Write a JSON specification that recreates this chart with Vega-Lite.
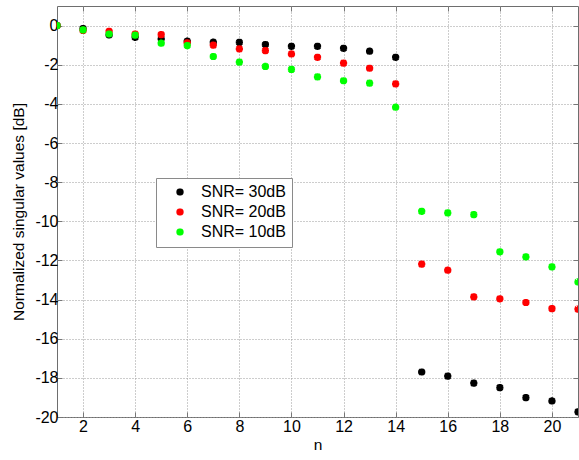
{
  "$schema": "https://vega.github.io/schema/vega-lite/v6.json",
  "width": 521,
  "height": 411,
  "autosize": {"type": "none"},
  "padding": {"left": 57, "top": 6, "right": 1, "bottom": 43},
  "background": "white",
  "config": {
    "view": {"stroke": "#6e6e6e", "strokeWidth": 1},
    "font": "Liberation Sans",
    "axis": {
      "labelFont": "Liberation Sans",
      "titleFont": "Liberation Sans",
      "labelFontSize": 16,
      "titleFontSize": 15.5,
      "titleFontWeight": "normal",
      "labelColor": "black",
      "titleColor": "black",
      "domain": false,
      "tickSize": -5,
      "tickColor": "#777",
      "gridColor": "#9a9a9a",
      "gridDash": [1, 2],
      "gridWidth": 1,
      "gridOpacity": 1,
      "labelExpr": "replace(datum.label, '\u2212', '-')"
    }
  },
  "data": {
    "values": [
      {"n": 1, "v": 0, "s": "SNR= 30dB"},
      {"n": 2, "v": -0.15, "s": "SNR= 30dB"},
      {"n": 3, "v": -0.48, "s": "SNR= 30dB"},
      {"n": 4, "v": -0.6, "s": "SNR= 30dB"},
      {"n": 5, "v": -0.68, "s": "SNR= 30dB"},
      {"n": 6, "v": -0.8, "s": "SNR= 30dB"},
      {"n": 7, "v": -0.85, "s": "SNR= 30dB"},
      {"n": 8, "v": -0.86, "s": "SNR= 30dB"},
      {"n": 9, "v": -0.97, "s": "SNR= 30dB"},
      {"n": 10, "v": -1.06, "s": "SNR= 30dB"},
      {"n": 11, "v": -1.06, "s": "SNR= 30dB"},
      {"n": 12, "v": -1.16, "s": "SNR= 30dB"},
      {"n": 13, "v": -1.31, "s": "SNR= 30dB"},
      {"n": 14, "v": -1.62, "s": "SNR= 30dB"},
      {"n": 15, "v": -17.7, "s": "SNR= 30dB"},
      {"n": 16, "v": -17.91, "s": "SNR= 30dB"},
      {"n": 17, "v": -18.27, "s": "SNR= 30dB"},
      {"n": 18, "v": -18.5, "s": "SNR= 30dB"},
      {"n": 19, "v": -19.01, "s": "SNR= 30dB"},
      {"n": 20, "v": -19.18, "s": "SNR= 30dB"},
      {"n": 21, "v": -19.74, "s": "SNR= 30dB"},
      {"n": 1, "v": 0, "s": "SNR= 20dB"},
      {"n": 2, "v": -0.25, "s": "SNR= 20dB"},
      {"n": 3, "v": -0.29, "s": "SNR= 20dB"},
      {"n": 4, "v": -0.43, "s": "SNR= 20dB"},
      {"n": 5, "v": -0.46, "s": "SNR= 20dB"},
      {"n": 6, "v": -0.88, "s": "SNR= 20dB"},
      {"n": 7, "v": -1.0, "s": "SNR= 20dB"},
      {"n": 8, "v": -1.19, "s": "SNR= 20dB"},
      {"n": 9, "v": -1.28, "s": "SNR= 20dB"},
      {"n": 10, "v": -1.45, "s": "SNR= 20dB"},
      {"n": 11, "v": -1.62, "s": "SNR= 20dB"},
      {"n": 12, "v": -1.92, "s": "SNR= 20dB"},
      {"n": 13, "v": -2.18, "s": "SNR= 20dB"},
      {"n": 14, "v": -2.98, "s": "SNR= 20dB"},
      {"n": 15, "v": -12.19, "s": "SNR= 20dB"},
      {"n": 16, "v": -12.5, "s": "SNR= 20dB"},
      {"n": 17, "v": -13.86, "s": "SNR= 20dB"},
      {"n": 18, "v": -13.96, "s": "SNR= 20dB"},
      {"n": 19, "v": -14.15, "s": "SNR= 20dB"},
      {"n": 20, "v": -14.46, "s": "SNR= 20dB"},
      {"n": 21, "v": -14.49, "s": "SNR= 20dB"},
      {"n": 1, "v": 0, "s": "SNR= 10dB"},
      {"n": 2, "v": -0.22, "s": "SNR= 10dB"},
      {"n": 3, "v": -0.43, "s": "SNR= 10dB"},
      {"n": 4, "v": -0.49, "s": "SNR= 10dB"},
      {"n": 5, "v": -0.9, "s": "SNR= 10dB"},
      {"n": 6, "v": -1.02, "s": "SNR= 10dB"},
      {"n": 7, "v": -1.58, "s": "SNR= 10dB"},
      {"n": 8, "v": -1.87, "s": "SNR= 10dB"},
      {"n": 9, "v": -2.09, "s": "SNR= 10dB"},
      {"n": 10, "v": -2.24, "s": "SNR= 10dB"},
      {"n": 11, "v": -2.62, "s": "SNR= 10dB"},
      {"n": 12, "v": -2.82, "s": "SNR= 10dB"},
      {"n": 13, "v": -2.94, "s": "SNR= 10dB"},
      {"n": 14, "v": -4.17, "s": "SNR= 10dB"},
      {"n": 15, "v": -9.49, "s": "SNR= 10dB"},
      {"n": 16, "v": -9.57, "s": "SNR= 10dB"},
      {"n": 17, "v": -9.66, "s": "SNR= 10dB"},
      {"n": 18, "v": -11.56, "s": "SNR= 10dB"},
      {"n": 19, "v": -11.82, "s": "SNR= 10dB"},
      {"n": 20, "v": -12.33, "s": "SNR= 10dB"},
      {"n": 21, "v": -13.1, "s": "SNR= 10dB"}
    ]
  },
  "layer": [
    {
      "mark": {
        "type": "point",
        "shape": "M-1,0L1,0M0,-1L0,1M-0.75,-0.75L0.75,0.75M-0.75,0.75L0.75,-0.75",
        "filled": false,
        "strokeWidth": 2.4,
        "size": 52,
        "opacity": 1,
        "clip": true
      },
      "encoding": {
        "x": {
          "field": "n",
          "type": "quantitative",
          "scale": {"domain": [1, 21], "nice": false, "zero": false},
          "axis": {"orient": "bottom", "values": [2, 4, 6, 8, 10, 12, 14, 16, 18, 20], "title": "n", "labelPadding": 6, "titlePadding": 3, "labelFlush": false}
        },
        "y": {
          "field": "v",
          "type": "quantitative",
          "scale": {"domain": [-20, 1], "nice": false, "zero": false},
          "axis": {"orient": "left", "values": [-20, -18, -16, -14, -12, -10, -8, -6, -4, -2, 0], "title": "Normalized singular values [dB]", "labelPadding": 4, "titlePadding": 8, "labelFlush": false}
        },
        "stroke": {
          "field": "s",
          "type": "nominal",
          "sort": ["SNR= 30dB", "SNR= 20dB", "SNR= 10dB"],
          "scale": {"domain": ["SNR= 30dB", "SNR= 20dB", "SNR= 10dB"], "range": ["#000000", "#ff0000", "#00ff00"]},
          "legend": {
            "title": null,
            "orient": "none",
            "legendX": 99,
            "legendY": 172,
            "direction": "vertical",
            "labelFont": "Liberation Sans",
            "labelFontSize": 16,
            "labelColor": "black",
            "labelOffset": 13,
            "symbolOffset": 10,
            "symbolStrokeWidth": 2.4,
            "symbolSize": 52,
            "symbolType": "M-1,0L1,0M0,-1L0,1M-0.75,-0.75L0.75,0.75M-0.75,0.75L0.75,-0.75",
            "rowPadding": 2,
            "padding": 6,
            "fillColor": "white",
            "strokeColor": "#8a8a8a"
          }
        }
      }
    },
    {
      "mark": {"type": "point", "opacity": 0, "clip": true},
      "encoding": {
        "x": {
          "field": "n",
          "type": "quantitative",
          "axis": {"orient": "top", "values": [2, 4, 6, 8, 10, 12, 14, 16, 18, 20], "title": null, "labels": false, "grid": false}
        },
        "y": {
          "field": "v",
          "type": "quantitative",
          "axis": {"orient": "right", "values": [-20, -18, -16, -14, -12, -10, -8, -6, -4, -2, 0], "title": null, "labels": false, "grid": false}
        }
      }
    }
  ],
  "resolve": {"axis": {"x": "independent", "y": "independent"}}
}
